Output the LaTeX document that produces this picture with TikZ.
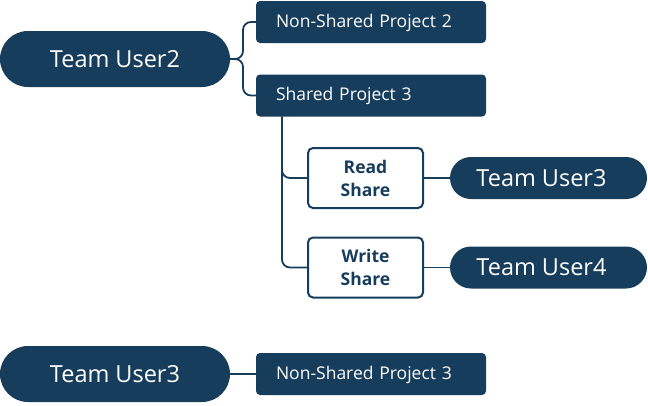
\documentclass[tikz,border=0pt]{standalone}
\usepackage{fontspec}
\setmainfont{Open Sans}
\definecolor{navy}{HTML}{173D5C}
\begin{document}
\begin{tikzpicture}[x=1pt,y=-1pt,
  pill/.style={fill=navy,text=white,rounded corners=21pt,minimum height=42pt,inner sep=0pt,font=\fontsize{23.5}{26}\selectfont},
  bigpill/.style={pill,rounded corners=28pt,minimum height=56pt,minimum width=230pt},
  proj/.style={fill=navy,text=white,rounded corners=4pt,text width=190pt,minimum height=42pt,inner xsep=20pt,inner ysep=0pt,align=left,text height=13pt,text depth=3pt,font=\fontsize{17.5}{20}\selectfont},
  share/.style={draw=navy,line width=2pt,fill=white,text=navy,rounded corners=5pt,minimum width=115pt,minimum height=60pt,inner sep=0pt,align=center,font=\bfseries\fontsize{17.5}{23}\selectfont},
  conn/.style={draw=navy,line width=1.8pt,rounded corners=8pt}]
\useasboundingbox (0,0) rectangle (648,405);
\node[bigpill] (u2) at (115,59) {Team User2};
\node[proj] (np2) at (371,22) {Non-Shared Project 2};
\node[proj] (sp3) at (371,95.5) {Shared Project 3};
\node[share] (rs) at (365.5,178) {Read\\Share};
\node[share] (ws) at (365.5,267.5) {Write\\Share};
\node[pill,minimum width=197pt] (t3) at (548.5,178) {Team User3\kern14pt};
\node[pill,minimum width=197pt] (t4) at (548.5,267.5) {Team User4\kern14pt};
\node[bigpill] (u3) at (115,374) {Team User3};
\node[proj] (np3) at (371,374) {Non-Shared Project 3};
\coordinate (j1) at (243,59);
\coordinate (j2) at (282,116.5);
\draw[conn] (u2.east) -- (j1) |- (np2.west);
\draw[conn] (u2.east) -- (j1) |- (sp3.west);
\draw[conn] (j2) |- (rs.west);
\draw[conn] (j2) |- (ws.west);
\draw[conn] (rs.east) -- (t3.west);
\draw[conn] (ws.east) -- (t4.west);
\draw[conn] (u3.east) -- (np3.west);
\end{tikzpicture}
\end{document}
